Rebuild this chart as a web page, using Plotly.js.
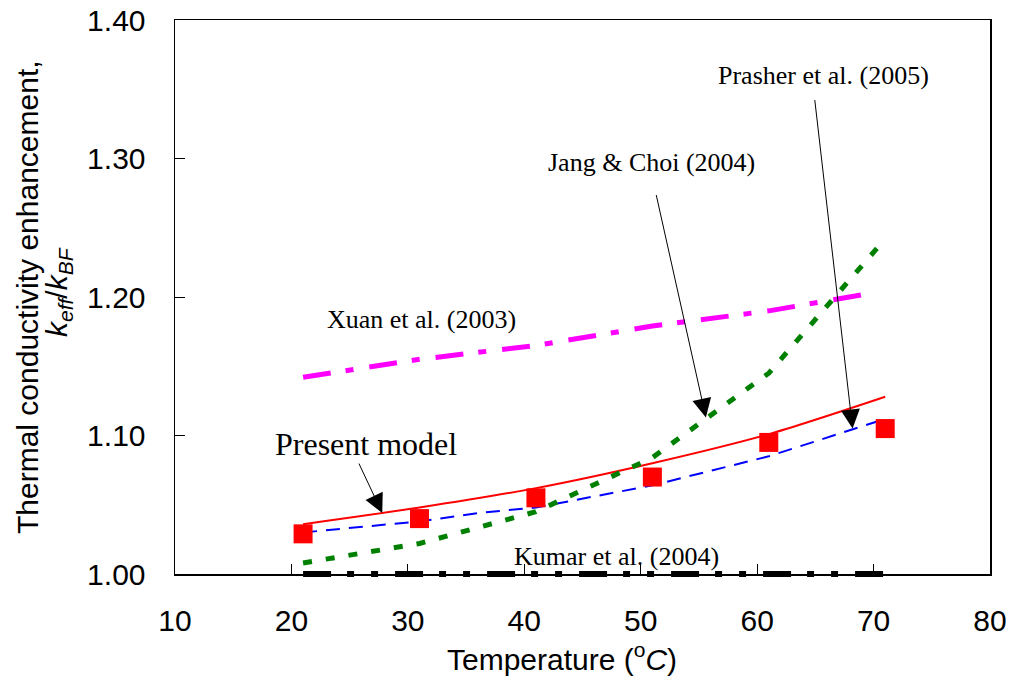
<!DOCTYPE html>
<html>
<head>
<meta charset="utf-8">
<script src="https://cdn.plot.ly/plotly-3.0.1.min.js"></script>
<style>
  html, body { margin: 0; padding: 0; background: #ffffff; }
  #chart { width: 1010px; height: 680px; }
</style>
</head>
<body>
<div id="chart"></div>
<script>
// Temperatures (°C) at which the models and measurements are reported
const temps = [21, 31, 41, 51, 61, 71];

// Measured enhancement k_eff / k_BF
const measured = [1.029, 1.040, 1.055, 1.070, 1.095, 1.105];

// Present model
const presentModel = [1.036, 1.048, 1.062, 1.080, 1.101, 1.128];

// Prasher et al. (2005)
const prasherTemps = [21, 31, 36, 41, 51, 61, 71];
const prasher = [1.030, 1.038, 1.044, 1.048, 1.064, 1.085, 1.112];

// Jang & Choi (2004)
const jangChoi = [1.008, 1.022, 1.045, 1.084, 1.145, 1.242];

// Xuan et al. (2003)
const xuanTemps = [21, 31, 41, 51, 61, 70];
const xuan = [1.142, 1.155, 1.165, 1.179, 1.190, 1.203];

// Kumar et al. (2004)
const kumarTemps = [21, 71];
const kumar = [1.00, 1.00];

// Axis ticks
const xTicks = [10, 20, 30, 40, 50, 60, 70, 80];
const yTicks = [1.00, 1.10, 1.20, 1.30, 1.40];

const SANS = 'Liberation Sans, Arial, sans-serif';
const SERIF = 'Liberation Serif, Times New Roman, serif';

// plot area: 20px top margin, 96px bottom margin -> 564px tall;
// the main y axis sits 10px above the bottom so the thick baseline
// series can be drawn centred on the axis line without being clipped.
const plotH = 564, lift = 10, mainH = plotH - lift;
const yLo = 1.0, yHi = 1.4;
const y2Lo = yLo - (yHi - yLo) * lift / mainH;

const traces = [
  {
    x: prasherTemps, y: prasher, mode: 'lines', name: 'Prasher et al. (2005)',
    line: { color: '#0000FF', width: 2, dash: '14px,9px' },
    xaxis: 'x', yaxis: 'y'
  },
  {
    x: temps, y: presentModel, mode: 'lines', name: 'Present model',
    line: { color: '#FF0000', width: 2, shape: 'spline', smoothing: 0.8 },
    xaxis: 'x', yaxis: 'y'
  },
  {
    x: temps, y: measured, mode: 'markers', name: 'Experiment',
    marker: { symbol: 'square', size: 19, color: '#FF0000', line: { width: 0 } },
    xaxis: 'x', yaxis: 'y'
  },
  {
    x: temps, y: jangChoi, mode: 'lines', name: 'Jang & Choi (2004)',
    line: { color: '#008000', width: 5, dash: '9px,14px' },
    xaxis: 'x', yaxis: 'y'
  },
  {
    x: xuanTemps, y: xuan, mode: 'lines', name: 'Xuan et al. (2003)',
    line: { color: '#FF00FF', width: 5, dash: '28px,15px,8px,16px' },
    xaxis: 'x', yaxis: 'y'
  },
  {
    x: kumarTemps, y: kumar, mode: 'lines', name: 'Kumar et al. (2004)',
    line: { color: '#000000', width: 6, dash: '28px,16px,7px,17px,7px,17px' },
    xaxis: 'x', yaxis: 'y2'
  }
];

const serifNote = (text, x, y) => ({
  text: text, x: x, y: y, xref: 'x', yref: 'y',
  showarrow: false, xanchor: 'center', yanchor: 'middle',
  font: { family: SERIF, size: 26, color: '#000000' }
});

const pointer = (x, y, ax, ay) => ({
  text: '', x: x, y: y, xref: 'x', yref: 'y',
  showarrow: true, ax: ax, ay: ay,
  arrowhead: 2, arrowsize: 3.8, arrowwidth: 1, arrowcolor: '#000000', standoff: 0
});

const presentNote = serifNote('Present model', 26.4, 1.094);
presentNote.font = { family: SERIF, size: 32, color: '#000000' };

const annotations = [
  presentNote,
  serifNote('Xuan et al. (2003)', 31.2, 1.1834),
  serifNote('Jang &amp; Choi (2004)', 50.9, 1.2968),
  serifNote('Prasher et al. (2005)', 65.7, 1.3596),
  serifNote('Kumar et al. (2004)', 47.96, 1.013),
  pointer(27.8, 1.044, -24, -51),
  pointer(55.6, 1.113, -50, -224),
  pointer(68.2, 1.105, -38, -330),
  {
    text: 'Thermal conductivity enhancement,',
    xref: 'paper', yref: 'paper', x: (27 - 175) / 815, y: (584 - 297) / plotH,
    xanchor: 'center', yanchor: 'middle', textangle: -90, showarrow: false,
    font: { family: SANS, size: 30, color: '#000000' }
  },
  {
    text: '<i>k</i><sub><i>eff</i></sub>/<i>k</i><sub><i>BF</i></sub>',
    xref: 'paper', yref: 'paper', x: (58 - 175) / 815, y: (584 - 292) / plotH,
    xanchor: 'center', yanchor: 'middle', textangle: -90, showarrow: false,
    font: { family: SANS, size: 30, color: '#000000' }
  },
  {
    text: 'Temperature (<sup>o</sup><i>C</i>)',
    xref: 'paper', yref: 'paper', x: (562 - 175) / 815, y: (584 - 657) / plotH,
    xanchor: 'center', yanchor: 'middle', showarrow: false,
    font: { family: SANS, size: 30, color: '#000000' }
  }
];

const layout = {
  width: 1010, height: 680,
  margin: { l: 175, r: 20, t: 20, b: 96, pad: 0 },
  paper_bgcolor: '#ffffff', plot_bgcolor: 'rgba(0,0,0,0)',
  showlegend: false,
  font: { family: SANS, color: '#000000' },
  xaxis: {
    range: [10, 80], tickvals: xTicks, ticktext: xTicks.map(String),
    ticks: 'inside', ticklen: 10, tickwidth: 1, tickcolor: '#000000',
    showline: true, linecolor: '#000000', linewidth: 1.5, mirror: true,
    showgrid: false, zeroline: false, anchor: 'y',
    ticklabelstandoff: 19,
    tickfont: { family: SANS, size: 30, color: '#000000' }
  },
  yaxis: {
    range: [yLo, yHi], domain: [lift / plotH, 1],
    tickvals: yTicks, ticktext: yTicks.map(v => v.toFixed(2)),
    ticks: 'inside', ticklen: 10, tickwidth: 1, tickcolor: '#000000',
    showline: true, linecolor: '#000000', linewidth: 1.5, mirror: true,
    showgrid: false, zeroline: false, anchor: 'x',
    ticklabelstandoff: 22,
    tickfont: { family: SANS, size: 30, color: '#000000' }
  },
  yaxis2: {
    range: [y2Lo, yHi], domain: [0, 1], anchor: 'x',
    visible: false, showgrid: false, zeroline: false
  },
  annotations: annotations
};

Plotly.newPlot('chart', traces, layout, { displayModeBar: false, staticPlot: true });
</script>
</body>
</html>
